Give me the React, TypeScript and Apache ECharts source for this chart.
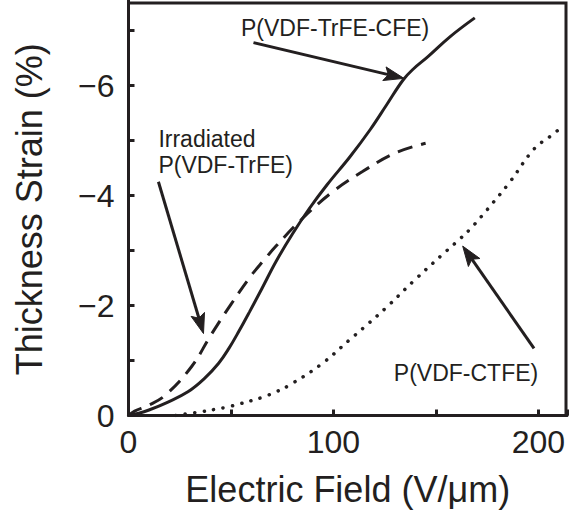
import React, { useEffect, useRef } from 'react';
import * as echarts from 'echarts';

// P(VDF-TrFE-CFE) — solid
const FIELD_CFE = [0, 5, 10, 19, 29, 37, 44, 49, 54, 59, 65, 72, 80, 88, 97, 108, 118, 126, 134, 139, 146, 157, 169];
const STRAIN_CFE = [0, -0.04, -0.1, -0.24, -0.43, -0.67, -0.95, -1.22, -1.54, -1.88, -2.3, -2.8, -3.3, -3.75, -4.2, -4.7, -5.2, -5.65, -6.1, -6.3, -6.52, -6.89, -7.23];

// Irradiated P(VDF-TrFE) — dashed
const FIELD_IRR = [0, 3, 9.5, 18, 31, 40, 50, 60, 66, 72, 84, 99, 114, 130, 145];
const STRAIN_IRR = [0, -0.08, -0.18, -0.37, -0.9, -1.45, -2.02, -2.55, -2.82, -3.08, -3.55, -4.05, -4.43, -4.77, -4.95];

// P(VDF-CTFE) — dotted
const FIELD_CTFE = [23, 30, 36, 42, 49, 54, 60, 66, 72, 78, 94, 108, 117, 126, 139, 153, 162, 167, 175, 186, 198, 206, 212];
const STRAIN_CTFE = [0, -0.04, -0.07, -0.11, -0.16, -0.21, -0.27, -0.34, -0.43, -0.54, -0.93, -1.38, -1.67, -1.97, -2.44, -2.92, -3.22, -3.4, -3.74, -4.24, -4.85, -5.08, -5.26];

const X_LABEL_STEP = 100;
const Y_LABEL_STEP = 2;
const X_MAX = 214;
const Y_VISIBLE_TOP = -7.5;

// annotations in data coordinates
const ARROWS = [
  { from: [61, -6.78], to: [134.4, -6.13] },
  { from: [14.6, -4.25], to: [36.6, -1.49] },
  { from: [197.9, -1.22], to: [163.1, -3.08] },
];
const LABELS = [
  { text: 'P(VDF-TrFE-CFE)', at: [54.9, -7.05] },
  { text: 'Irradiated', at: [14.6, -5.03] },
  { text: 'P(VDF-TrFE)', at: [14.6, -4.56] },
  { text: 'P(VDF-CTFE)', at: [129.5, -0.78] },
];

const INK = '#231f20';
const FONT = '"Liberation Sans", Arial, Helvetica, sans-serif';

const zip = (xs: number[], ys: number[]) => xs.map((x, i) => [x, ys[i]]);

export default function App() {
  const ref = useRef<HTMLDivElement>(null);
  useEffect(() => {
    if (!ref.current) return;
    const chart = echarts.init(ref.current, undefined, { renderer: 'svg' });
    const fmtX = (v: number) => (Math.abs(v % X_LABEL_STEP) < 1e-9 ? String(v) : '');
    const fmtY = (v: number) => {
      if (v === 0) return '0';
      if (v >= Y_VISIBLE_TOP && Number.isInteger(v) && v % Y_LABEL_STEP === 0) return '\u2212' + Math.abs(v);
      return '';
    };
    // Visible plot box: y 0..-7.5 over 412.5px (55 px/unit). The y axis runs to -8 so that
    // its ticks fall on whole numbers; the extra half unit lies above the page edge.
    const pxPerY = 412.5 / -Y_VISIBLE_TOP;
    chart.setOption({
      animation: false,
      backgroundColor: '#ffffff',
      grid: {
        left: 128.5,
        top: 415.5 - 8 * pxPerY,
        width: 438.5,
        height: 8 * pxPerY,
        containLabel: false,
        outerBoundsMode: 'none',
      },
      xAxis: {
        type: 'value',
        min: 0,
        max: X_MAX,
        interval: 50,
        name: 'Electric Field (V/\u03bcm)',
        nameLocation: 'middle',
        nameGap: 56,
        nameTextStyle: { fontFamily: FONT, fontSize: 36, color: INK },
        axisLine: { show: true, onZero: false, lineStyle: { color: INK, width: 3 } },
        axisTick: { show: true, inside: true, length: 6, lineStyle: { color: INK, width: 3 } },
        axisLabel: {
          formatter: fmtX,
          showMaxLabel: true,
          showMinLabel: true,
          hideOverlap: false,
          margin: 10,
          fontFamily: FONT,
          fontSize: 32,
          color: INK,
        },
        splitLine: { show: false },
      },
      yAxis: {
        type: 'value',
        min: -8,
        max: 0,
        interval: 1,
        inverse: true,
        axisLine: { show: true, onZero: false, lineStyle: { color: INK, width: 3 } },
        axisTick: { show: true, inside: true, length: 6, lineStyle: { color: INK, width: 3 } },
        axisLabel: {
          formatter: fmtY,
          margin: 14,
          fontFamily: FONT,
          fontSize: 32,
          color: INK,
        },
        splitLine: { show: false },
      },
      series: [
        {
          name: 'P(VDF-TrFE-CFE)',
          type: 'line',
          data: zip(FIELD_CFE, STRAIN_CFE),
          smooth: 0.4,
          showSymbol: false,
          lineStyle: { color: INK, width: 3, type: 'solid' },
        },
        {
          name: 'Irradiated P(VDF-TrFE)',
          type: 'line',
          data: zip(FIELD_IRR, STRAIN_IRR),
          smooth: 0.4,
          showSymbol: false,
          lineStyle: { color: INK, width: 3, type: [15, 9] },
        },
        {
          name: 'P(VDF-CTFE)',
          type: 'line',
          data: zip(FIELD_CTFE, STRAIN_CTFE),
          smooth: 0.4,
          showSymbol: false,
          lineStyle: { color: INK, width: 3.5, type: [0.1, 9.5], cap: 'round' },
        },
      ],
    });

    const px = (c: number[]) => chart.convertToPixel({ gridIndex: 0 }, c) as number[];
    const graphics: any[] = [];

    // frame: top and right edges of the visible plot box
    const tl = px([0, Y_VISIBLE_TOP]);
    const tr = px([X_MAX, Y_VISIBLE_TOP]);
    const br = px([X_MAX, 0]);
    graphics.push({
      type: 'polyline',
      shape: {
        points: [
          [tl[0] - 1.5, tl[1]],
          [tr[0] - 1, tr[1]],
          [br[0] - 1, br[1] + 1.5],
        ],
      },
      style: { stroke: INK, lineWidth: 3, fill: 'none' },
      silent: true,
    });

    // y axis title centred on the visible span
    const yMid = (tl[1] + br[1]) / 2;
    graphics.push({
      type: 'text',
      x: 29,
      y: yMid,
      rotation: Math.PI / 2,
      silent: true,
      style: {
        text: 'Thickness Strain (%)',
        fill: INK,
        font: '36px ' + FONT,
        textAlign: 'center',
        textVerticalAlign: 'middle',
        align: 'center',
        verticalAlign: 'middle',
      },
    });

    const HEAD_LEN = 20;
    const HEAD_HALF = 7;
    ARROWS.forEach((a) => {
      const p0 = px(a.from);
      const p1 = px(a.to);
      const dx = p1[0] - p0[0];
      const dy = p1[1] - p0[1];
      const len = Math.sqrt(dx * dx + dy * dy);
      const ux = dx / len;
      const uy = dy / len;
      const nx = -uy;
      const ny = ux;
      const bx = p1[0] - ux * HEAD_LEN;
      const by = p1[1] - uy * HEAD_LEN;
      const notchX = p1[0] - ux * (HEAD_LEN - 4);
      const notchY = p1[1] - uy * (HEAD_LEN - 4);
      graphics.push({
        type: 'line',
        shape: { x1: p0[0], y1: p0[1], x2: notchX, y2: notchY },
        style: { stroke: INK, lineWidth: 3 },
        silent: true,
      });
      graphics.push({
        type: 'polygon',
        shape: {
          points: [
            [p1[0], p1[1]],
            [bx + nx * HEAD_HALF, by + ny * HEAD_HALF],
            [notchX, notchY],
            [bx - nx * HEAD_HALF, by - ny * HEAD_HALF],
          ],
        },
        style: { fill: INK, stroke: INK, lineWidth: 1 },
        silent: true,
      });
    });
    LABELS.forEach((l) => {
      const p = px(l.at);
      graphics.push({
        type: 'text',
        x: p[0],
        y: p[1],
        silent: true,
        style: {
          text: l.text,
          fill: INK,
          font: '23px ' + FONT,
          textAlign: 'left',
          textVerticalAlign: 'middle',
          align: 'left',
          verticalAlign: 'middle',
        },
      });
    });
    chart.setOption({ graphic: graphics });

    return () => chart.dispose();
  }, []);
  return (
    <div
      ref={ref}
      style={{ position: 'fixed', left: 0, top: 0, width: 569, height: 515, background: '#fff' }}
    />
  );
}
